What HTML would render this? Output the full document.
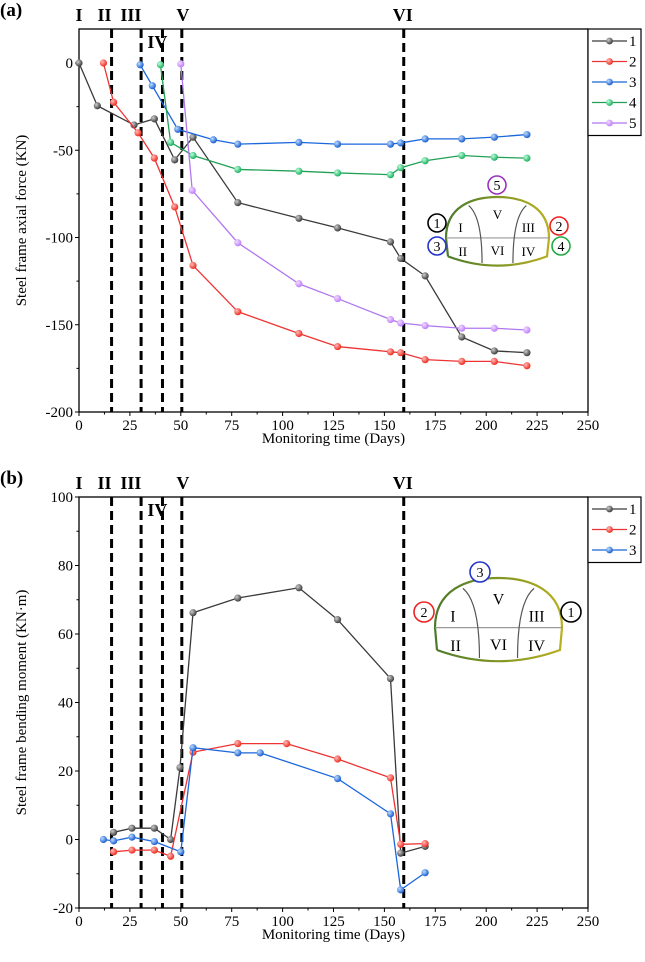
<!DOCTYPE html>
<html><head><meta charset="utf-8">
<style>
html,body{margin:0;padding:0;background:#fff;}
svg{display:block;font-family:"Liberation Serif",serif;}
</style></head>
<body>
<svg id="fig" width="645" height="962" viewBox="0 0 645 962" xmlns="http://www.w3.org/2000/svg">
<defs>
<radialGradient id="gk" cx="0.35" cy="0.35" r="0.7"><stop offset="0" stop-color="#ccc"/><stop offset="1" stop-color="#333"/></radialGradient>
<radialGradient id="gr" cx="0.35" cy="0.35" r="0.7"><stop offset="0" stop-color="#fbb"/><stop offset="1" stop-color="#e21"/></radialGradient>
<radialGradient id="gb" cx="0.35" cy="0.35" r="0.7"><stop offset="0" stop-color="#bdf"/><stop offset="1" stop-color="#15c"/></radialGradient>
<radialGradient id="gg" cx="0.35" cy="0.35" r="0.7"><stop offset="0" stop-color="#bfd"/><stop offset="1" stop-color="#1a5"/></radialGradient>
<radialGradient id="gp" cx="0.35" cy="0.35" r="0.7"><stop offset="0" stop-color="#f0dcff"/><stop offset="1" stop-color="#b7f"/></radialGradient>
</defs>
</svg>
<script>
// ---- Panel (a) data: axial force (KN) ----
const aX1=[0,9,27,37,47,56,78,108,127,153,158,170,188,204,220];
const aY1=[0,-24.5,-35.5,-32,-55.5,-42.5,-80,-89,-94.5,-102.5,-112,-122,-157,-165,-166];
const aX2=[12,17,29,37,47,56,78,108,127,153,158,170,188,204,220];
const aY2=[0,-22.5,-40,-54.5,-82.5,-116,-142.5,-155,-162.5,-165.5,-166,-170,-171,-171,-173.5];
const aX3=[30,36,48.5,66,78,108,127,153,158,170,188,204,220];
const aY3=[-1,-13,-38,-44,-46.5,-45.5,-46.5,-46.5,-45.8,-43.5,-43.5,-42.5,-41];
const aX4=[40,45,56,78,108,127,153,158,170,188,204,220];
const aY4=[-1,-45.5,-53,-61,-62,-63,-64,-60,-56,-53,-54,-54.5];
const aX5=[50,55.6,78,108,127,153,158,170,188,204,220];
const aY5=[-0.5,-73,-103,-126.5,-135,-147,-149,-150.5,-152,-152,-153];
const aYTicks=[0,-50,-100,-150,-200];
// ---- Panel (b) data: bending moment (KN·m) ----
const bX1=[17,26,37,45,49.6,56,78,108,127,153,158,170];
const bY1=[2.1,3.3,3.3,0,21,66.2,70.5,73.5,64.2,47,-4,-2];
const bX2=[17,26,37,45,56,78,102,127,153,158,170];
const bY2=[-3.6,-3.1,-3.1,-4.9,25.5,28,28,23.5,18,-1.4,-1.2];
const bX3=[12,17,26,37,50,56,78,89,127,153,158,170];
const bY3=[0,-0.4,0.7,-0.6,-3.6,26.8,25.3,25.3,17.8,7.5,-14.7,-9.7];
const bYTicks=[100,80,60,40,20,0,-20];
const xTicks=[0,25,50,75,100,125,150,175,200,225,250];
const stageDays=[16,30.5,41,50.5,159.5];

const svg=document.getElementById('fig');
const NS='http://www.w3.org/2000/svg';
function mk(tag,attrs,parent,name){const e=document.createElementNS(NS,tag);for(const k in attrs)e.setAttribute(k,attrs[k]);(parent||svg).appendChild(e);


return e;}
function txt(x,y,s,attrs,name,parent){const t=mk('text',Object.assign({x:x,y:y},attrs||{}),parent,name);t.textContent=s;return t;}

function panel(cfg){
  const g=mk('g',{},svg,cfg.id);
  const X0=79,X1=588;
  const sx=v=>X0+(v-0)*(X1-X0)/250;
  const sy=v=>cfg.py0+(v-cfg.v0)*(cfg.py1-cfg.py0)/(cfg.v1-cfg.v0);
  mk('rect',{x:X0,y:cfg.top,width:X1-X0,height:cfg.bottom-cfg.top,fill:'none',stroke:'#000','stroke-width':1.3},g,'plot-frame');
  xTicks.forEach((t,i)=>{
    mk('line',{x1:sx(t),x2:sx(t),y1:cfg.bottom,y2:cfg.bottom+4,stroke:'#000','stroke-width':1},g,'x-tick');
    if(i<xTicks.length-1)mk('line',{x1:sx(t+12.5),x2:sx(t+12.5),y1:cfg.bottom,y2:cfg.bottom+2.5,stroke:'#000','stroke-width':1},g,'x-minor-tick');
    txt(sx(t),cfg.bottom+18,String(t),{'font-size':15,'text-anchor':'middle'},'x-tick-label',g);
  });
  cfg.yTicks.forEach((t,i)=>{
    mk('line',{x1:X0-4,x2:X0,y1:sy(t),y2:sy(t),stroke:'#000','stroke-width':1},g,'y-tick');
    if(i<cfg.yTicks.length-1){const m=(t+cfg.yTicks[i+1])/2;mk('line',{x1:X0-2.5,x2:X0,y1:sy(m),y2:sy(m),stroke:'#000','stroke-width':1},g,'y-minor-tick');}
    txt(X0-6,sy(t)+5,String(t),{'font-size':15,'text-anchor':'end'},'y-tick-label',g);
  });
  txt((X0+X1)/2,cfg.bottom+31,'Monitoring time (Days)',{'font-size':15,'text-anchor':'middle'},'x-axis-title',g);
  const yc=(cfg.top+cfg.bottom)/2;
  txt(26,yc,cfg.ytitle,{'font-size':15,'text-anchor':'middle',transform:`rotate(-90 26 ${yc})`},'y-axis-title',g);
  txt(0,cfg.top-13,cfg.label,{'font-size':19,'font-weight':'bold'},'panel-label',g);
  stageDays.forEach(d=>{mk('line',{x1:sx(d),x2:sx(d),y1:cfg.top,y2:cfg.bottom,stroke:'#000','stroke-width':3,'stroke-dasharray':'9,5'},g,'stage-line');});
  const ly=cfg.top-8;
  txt(sx(0),ly,'I',{'font-size':18,'font-weight':'bold','text-anchor':'middle'},'stage-label-I',g);
  txt(sx(12.5),ly,'II',{'font-size':18,'font-weight':'bold','text-anchor':'middle'},'stage-label-II',g);
  txt(sx(25.5),ly,'III',{'font-size':18,'font-weight':'bold','text-anchor':'middle'},'stage-label-III',g);
  txt(sx(38.5),cfg.top+19,'IV',{'font-size':18,'font-weight':'bold','text-anchor':'middle'},'stage-label-IV',g);
  txt(sx(51),ly,'V',{'font-size':18,'font-weight':'bold','text-anchor':'middle'},'stage-label-V',g);
  txt(sx(159),ly,'VI',{'font-size':18,'font-weight':'bold','text-anchor':'middle'},'stage-label-VI',g);
  cfg.series.forEach(s=>{
    const sg=mk('g',{},g,'series-'+s.n);
    mk('polyline',{points:s.x.map((v,i)=>sx(v)+','+sy(s.y[i])).join(' '),fill:'none',stroke:s.c,'stroke-width':1.3},sg,'series-line-'+s.n);
    s.x.forEach((v,i)=>mk('circle',{cx:sx(v),cy:sy(s.y[i]),r:3.6,fill:s.grad},sg,'data-point-'+s.n));
  });
  const lg=mk('g',{},g,'legend');
  const lh=cfg.series.length*20.5+4;
  mk('rect',{x:588,y:cfg.top,width:53,height:lh,fill:'#fff',stroke:'#000','stroke-width':1.2},lg,'legend-box');
  cfg.series.forEach((s,i)=>{
    const yy=cfg.top+12+i*20.5;
    mk('line',{x1:592,x2:627,y1:yy,y2:yy,stroke:s.c,'stroke-width':1.3},lg,'legend-line-'+s.n);
    mk('circle',{cx:609.5,cy:yy,r:3.4,fill:s.grad},lg,'legend-marker-'+s.n);
    txt(629,yy+5,String(s.n),{'font-size':15},'legend-entry-'+s.n,lg);
  });
  return g;
}

function tunnel(parent,ox,oy,w,h,circles){
  const g=mk('g',{},parent,'tunnel-inset');
  const L=ox,R=ox+w,T=oy,B=oy+h;
  const mid=oy+h*0.62, bot=oy+h*0.9;
  const grad=mk('linearGradient',{id:'tg'+ox,x1:0,x2:1,y1:0,y2:0},g,'tunnel-gradient');
  mk('stop',{offset:0,'stop-color':'#4a7a2a'},grad,'stop');mk('stop',{offset:1,'stop-color':'#b8b020'},grad,'stop');
  mk('path',{d:`M${L+2},${bot} L${L},${mid} C${L},${T+h*0.15} ${L+w*0.25},${T} ${L+w/2},${T} C${R-w*0.25},${T} ${R},${T+h*0.15} ${R},${mid} L${R-2},${bot} Q${L+w/2},${B+h*0.18} ${L+2},${bot}`,fill:'#fff',stroke:`url(#tg${ox})`,'stroke-width':2.2},g,'tunnel-outline');
  mk('line',{x1:L,x2:R,y1:mid,y2:mid,stroke:'#999','stroke-width':1.2},g,'bench-line');
  mk('path',{d:`M${L+w*0.22},${T+h*0.13} Q${L+w*0.35},${T+h*0.3} ${L+w*0.35},${B}`,fill:'none',stroke:'#555','stroke-width':1.2},g,'left-partition');
  mk('path',{d:`M${R-w*0.22},${T+h*0.13} Q${R-w*0.35},${T+h*0.3} ${R-w*0.35},${B}`,fill:'none',stroke:'#555','stroke-width':1.2},g,'right-partition');
  const fs=Math.round(h*0.2);
  txt(L+w*0.12,mid-6,'I',{'font-size':fs},'zone-I',g);
  txt(L+w*0.12,B-7,'II',{'font-size':fs},'zone-II',g);
  txt(L+w*0.5,T+h*0.33,'V',{'font-size':fs,'text-anchor':'middle'},'zone-V',g);
  txt(L+w*0.5,B-8,'VI',{'font-size':fs,'text-anchor':'middle'},'zone-VI',g);
  txt(R-w*0.2,mid-6,'III',{'font-size':fs,'text-anchor':'middle'},'zone-III',g);
  txt(R-w*0.2,B-7,'IV',{'font-size':fs,'text-anchor':'middle'},'zone-IV',g);
  circles.forEach(c=>{
    mk('circle',{cx:c[0],cy:c[1],r:c[4],fill:'#fff',stroke:c[3],'stroke-width':1.6},g,'gauge-marker-'+c[2]);
    txt(c[0],c[1]+5,c[2],{'font-size':14,'text-anchor':'middle'},'gauge-label-'+c[2],g);
  });
}

const pa=panel({id:'panel-a',label:'(a)',top:29,bottom:412,v0:0,v1:-200,py0:63,py1:412,yTicks:aYTicks,ytitle:'Steel frame axial force (KN)',
 series:[{n:1,x:aX1,y:aY1,c:'#3a3a3a',grad:'url(#gk)'},{n:2,x:aX2,y:aY2,c:'#ee3333',grad:'url(#gr)'},{n:3,x:aX3,y:aY3,c:'#1a66dd',grad:'url(#gb)'},{n:4,x:aX4,y:aY4,c:'#22a055',grad:'url(#gg)'},{n:5,x:aX5,y:aY5,c:'#b077ee',grad:'url(#gp)'}]});
tunnel(pa,446,197,103,66,[[497,185,'5','#9933bb',9],[437,223,'1','#000',9],[437,246,'3','#2233cc',9],[559,226,'2','#ee2222',9],[561,246,'4','#22aa44',9]]);

const pb=panel({id:'panel-b',label:'(b)',top:497,bottom:908,v0:100,v1:-20,py0:497,py1:908,yTicks:bYTicks,ytitle:'Steel frame bending moment (KN·m)',
 series:[{n:1,x:bX1,y:bY1,c:'#3a3a3a',grad:'url(#gk)'},{n:2,x:bX2,y:bY2,c:'#ee3333',grad:'url(#gr)'},{n:3,x:bX3,y:bY3,c:'#1a66dd',grad:'url(#gb)'}]});
tunnel(pb,435,578,127,80,[[480,572,'3','#2233cc',10],[424,612,'2','#ee2222',10],[571,612,'1','#000',10]]);
</script>
</body></html>
